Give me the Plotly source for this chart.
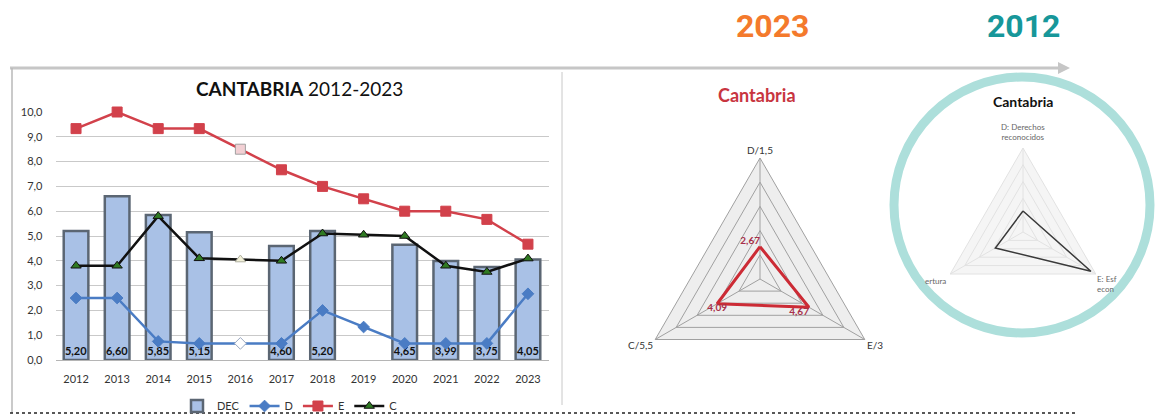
import plotly.graph_objects as go

W, H = 1160, 416
def px(x): return x / W
def py(y): return 1 - y / H

# ---------------- data ----------------
years = ["2012", "2013", "2014", "2015", "2016", "2017", "2018", "2019", "2020", "2021", "2022", "2023"]
dec = [5.20, 6.60, 5.85, 5.15, None, 4.60, 5.20, None, 4.65, 3.99, 3.75, 4.05]
d_vals = [2.5, 2.5, 0.75, 0.67, 0.67, 0.67, 2.0, 1.33, 0.67, 0.67, 0.67, 2.67]
e_vals = [9.33, 10.0, 9.33, 9.33, 8.5, 7.67, 7.0, 6.5, 6.0, 6.0, 5.67, 4.67]
c_vals = [3.8, 3.8, 5.8, 4.1, 4.05, 4.0, 5.1, 5.05, 5.0, 3.8, 3.55, 4.09]

radar_axes = ["D/1,5", "E/3", "C/5,5"]
radar_2023 = [2.67, 4.67, 4.09]
radar_2023_labels = ["2,67", "4,67", "4,09"]
radar_2012 = [2.5, 9.33, 3.8]

FONT = "Lato, 'Open Sans', sans-serif"

fig = go.Figure()

# ---------------- left combo chart ----------------
fig.add_trace(go.Bar(
    x=years, y=dec, name="DEC", width=0.6,
    marker=dict(color="#a9c1e6", line=dict(color="#5b6673", width=2.5)),
    texttemplate="%{y:.2f}", textposition="inside", insidetextanchor="start",
    textangle=0, textfont=dict(color="#111", size=11, family=FONT, weight="bold"),
    xaxis="x", yaxis="y",
))

pale_idx = 4  # 2016 markers drawn pale
def marker_colors(base, pale):
    return [pale if i == pale_idx else base for i in range(len(years))]

fig.add_trace(go.Scatter(
    x=years, y=d_vals, name="D", mode="lines+markers",
    line=dict(color="#4a7cc4", width=2.5),
    marker=dict(symbol="diamond", size=9, color=marker_colors("#4a7cc4", "#ffffff"),
                line=dict(color=marker_colors("#4a7cc4", "#9aa8c0"), width=1)),
    cliponaxis=False, xaxis="x", yaxis="y",
))
fig.add_trace(go.Scatter(
    x=years, y=e_vals, name="E", mode="lines+markers",
    line=dict(color="#d2414b", width=2.5),
    marker=dict(symbol="square", size=10, color=marker_colors("#d2414b", "#f2d0d4"),
                line=dict(color=marker_colors("#d2414b", "#a0a0a0"), width=1)),
    cliponaxis=False, xaxis="x", yaxis="y",
))
fig.add_trace(go.Scatter(
    x=years, y=c_vals, name="C", mode="lines+markers",
    line=dict(color="#111111", width=2.5),
    marker=dict(symbol="triangle-up", size=9, color=marker_colors("#2f7a22", "#f2f0d8"),
                line=dict(color=marker_colors("#111111", "#b0b0a0"), width=1)),
    cliponaxis=False, xaxis="x", yaxis="y",
))

# ---------------- radar 2023 ----------------
fig.add_trace(go.Scatterpolar(
    r=radar_2023 + radar_2023[:1], theta=radar_axes + radar_axes[:1],
    mode="lines+text", text=radar_2023_labels + [""],
    textposition=["top left", "bottom left", "bottom center", "top center"],
    textfont=dict(color="#a8304a", size=10, family=FONT, weight="bold"),
    line=dict(color="#cc2b35", width=3), showlegend=False, subplot="polar",
))

# ---------------- radar 2012 ----------------
fig.add_trace(go.Scatterpolar(
    r=radar_2012 + radar_2012[:1], theta=radar_axes + radar_axes[:1],
    mode="lines", line=dict(color="#3a3a3a", width=1.5),
    showlegend=False, subplot="polar2",
))

# ---------------- layout ----------------
cx1, cy1, R1 = 760, 279, 121
cx2, cy2, R2 = 1023, 232, 84

fig.update_layout(
    width=W, height=H, margin=dict(l=0, r=0, t=0, b=0, autoexpand=False),
    paper_bgcolor="white", plot_bgcolor="white",
    separators=",.",
    font=dict(family=FONT, size=11, color="#333"),
    bargap=0.4,
    xaxis=dict(domain=[px(55.5), px(548.5)], type="category", range=[-0.5, 11.5],
               showgrid=False, showline=True, linecolor="#b5b5b5", linewidth=1,
               ticks="", tickfont=dict(size=11, color="#333"), anchor="y", automargin=False,
               ticklabelstandoff=9),
    yaxis=dict(domain=[py(360), py(112)], range=[0, 10], tickvals=[0, 1, 2, 3, 4, 5, 6, 7, 8, 9, 10],
               tickformat=".1f", showgrid=True, gridcolor="#c9c9c9", gridwidth=1,
               zeroline=False, showline=False, ticks="", tickfont=dict(size=11, color="#333"),
               anchor="x", automargin=False, ticklabelstandoff=12),
    legend=dict(orientation="h", x=px(290), xanchor="center", y=py(406), yanchor="middle",
                font=dict(size=11, color="#333"), bgcolor="rgba(0,0,0,0)",
                itemwidth=30, tracegroupgap=0),
    polar=dict(
        domain=dict(x=[px(cx1 - R1), px(cx1 + R1)], y=[py(cy1 + R1), py(cy1 - R1)]),
        gridshape="linear", bgcolor="#eeeeee",
        radialaxis=dict(range=[0, 10], tickvals=[2, 4, 6, 8, 10], showticklabels=False,
                        gridcolor="#a0a0a0", showline=False, ticks=""),
        angularaxis=dict(direction="clockwise", rotation=90, gridcolor="#a0a0a0",
                         linecolor="#a0a0a0", ticks="", tickfont=dict(size=10, color="#333")),
    ),
    polar2=dict(
        domain=dict(x=[px(cx2 - R2), px(cx2 + R2)], y=[py(cy2 + R2), py(cy2 - R2)]),
        gridshape="linear", bgcolor="#f5f5f5",
        radialaxis=dict(range=[0, 10], tickvals=[2, 4, 6, 8, 10], showticklabels=False,
                        gridcolor="#e2e2e2", showline=False, ticks=""),
        angularaxis=dict(direction="clockwise", rotation=90, gridcolor="#e2e2e2",
                         linecolor="#e2e2e2", ticks="", showticklabels=False),
    ),
)

shapes = [
    # top arrow line
    dict(type="line", xref="paper", yref="paper", x0=px(10), y0=py(68), x1=px(1060), y1=py(68),
         line=dict(color="#c6c6c6", width=3)),
    dict(type="path", xref="paper", yref="paper",
         path=f"M {px(1058)} {py(62)} L {px(1070)} {py(68)} L {px(1058)} {py(74)} Z",
         fillcolor="#c6c6c6", line=dict(width=0)),
    # left border
    dict(type="line", xref="paper", yref="paper", x0=px(12), y0=py(68), x1=px(12), y1=py(413),
         line=dict(color="#b8b8b8", width=1.5)),
    # middle divider
    dict(type="line", xref="paper", yref="paper", x0=px(562), y0=py(72), x1=px(562), y1=py(405),
         line=dict(color="#c8c8c8", width=1)),
    # bottom dotted line
    dict(type="line", xref="paper", yref="paper", x0=px(10), y0=py(413), x1=px(1075), y1=py(413),
         line=dict(color="#222", width=1.5, dash="dot")),
    # teal ring
    dict(type="circle", xref="paper", yref="paper", x0=px(894), y0=py(333), x1=px(1150), y1=py(77),
         line=dict(color="#addfdb", width=9)),
]
fig.update_layout(shapes=shapes)

BIG = "Roboto, 'Liberation Sans Narrow', sans-serif"
ann = [
    dict(text="<b>CANTABRIA</b> 2012-2023", x=px(299), y=py(88), font=dict(size=19, color="#111")),
    dict(text="<b>Cantabria</b>", x=px(757), y=py(95), font=dict(size=18, color="#c8353f")),
    dict(text="<b>Cantabria</b>", x=px(1023), y=py(101), font=dict(size=14, color="#111")),
    dict(text="D: Derechos<br>reconocidos", x=px(1023), y=py(132), font=dict(size=8, color="#666")),
    dict(text="E: Esf<br>econ", x=px(1095), y=py(284), xanchor="left", align="left",
         font=dict(size=8, color="#666")),
    dict(text="ertura", x=px(948), y=py(281), xanchor="right", font=dict(size=8, color="#666")),
    dict(text="<b>2023</b>", x=px(772), y=py(26), font=dict(size=32, color="#f47a2c", family=BIG)),
    dict(text="<b>2012</b>", x=px(1023), y=py(26), font=dict(size=32, color="#17979a", family=BIG)),
]
for a in ann:
    a.update(xref="paper", yref="paper", showarrow=False)
    a.setdefault("xanchor", "center")
    a.setdefault("yanchor", "middle")
fig.update_layout(annotations=ann, uniformtext=dict(minsize=11, mode="show"))

fig.write_html("out.html", config={"displayModeBar": False},
               post_script="document.body.style.margin='0';document.body.style.overflow='hidden';")
